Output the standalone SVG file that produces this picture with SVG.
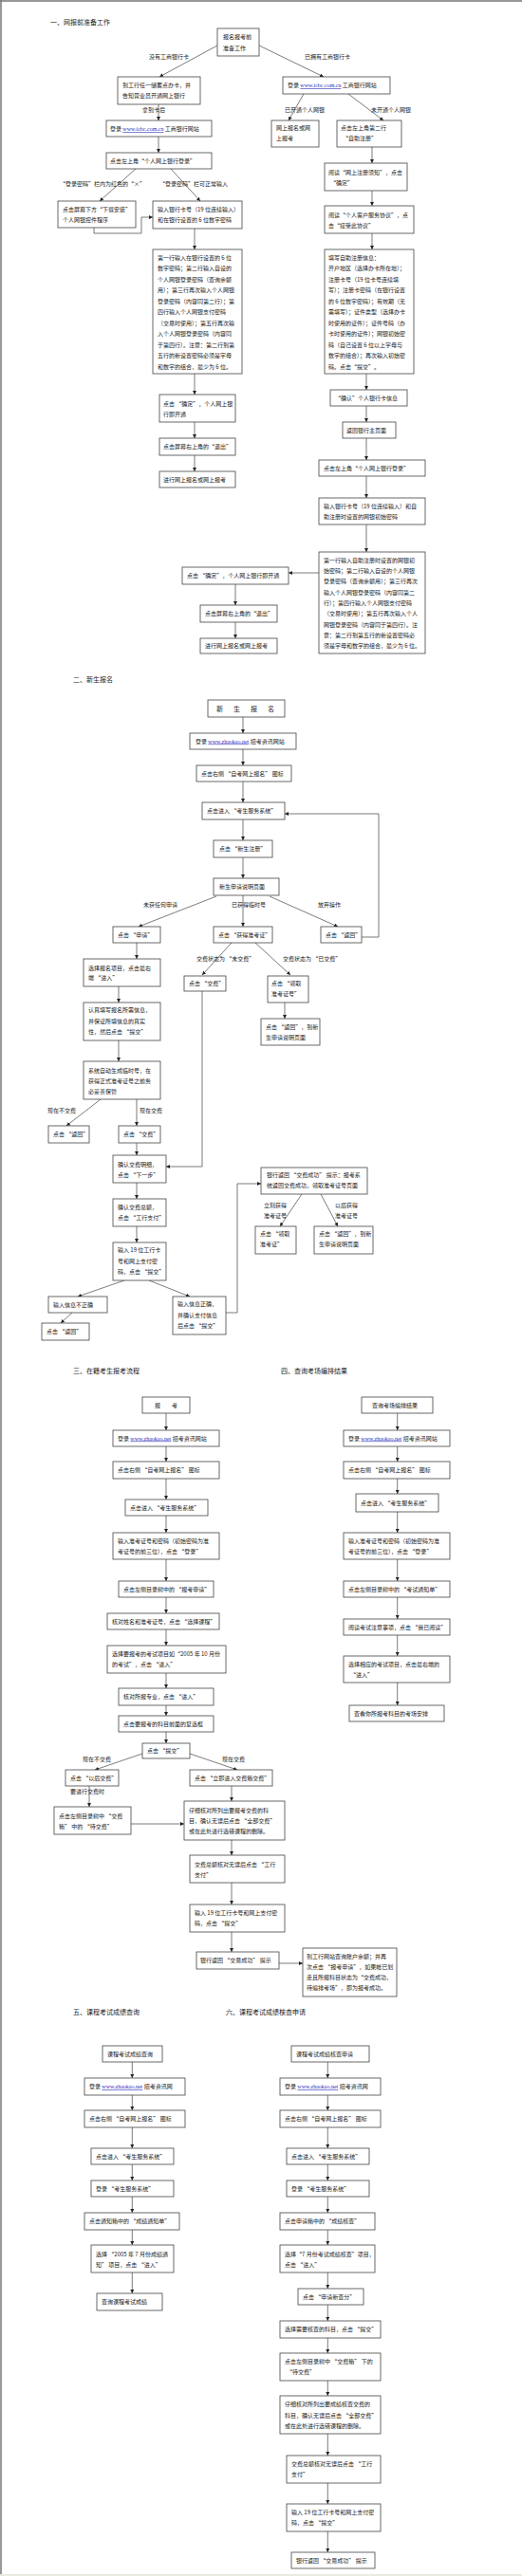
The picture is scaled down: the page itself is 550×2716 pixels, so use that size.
<svg xmlns="http://www.w3.org/2000/svg" width="550" height="2716" viewBox="0 0 550 2716">
<style>
.b{fill:#fff;stroke:#444;stroke-width:0.8}
.t{font-family:"Noto Sans CJK SC","Noto Sans CJK JP",sans-serif;font-size:6px;fill:#222}
.h{font-size:7px}
.l{font-family:"Liberation Serif",serif;fill:#2b2bbb;text-decoration:underline}
.c{fill:none;stroke:#444;stroke-width:0.7}
.ca{fill:none;stroke:#444;stroke-width:0.7;marker-end:url(#a)}
</style>
<defs>
<marker id="a" viewBox="0 0 6 6" refX="6" refY="3" markerWidth="4" markerHeight="4" orient="auto" markerUnits="userSpaceOnUse"><path d="M0,0 L6,3 L0,6 z" fill="#222"/></marker>
</defs>
<rect x="0" y="0" width="550" height="2716" fill="#fff"/>
<path d="M1,0 V2714 M0,1 H550" stroke="#777" stroke-width="1.5" fill="none"/>
<rect x="0" y="2714" width="550" height="2" fill="#ebebe3"/>

<g id="titles">
<text class="t h" x="53" y="26">一、网报前准备工作</text>
<text class="t h" x="77" y="719">二、新生报名</text>
<text class="t h" x="77" y="1448">三、在籍考生报考流程</text>
<text class="t h" x="296" y="1448">四、查询考场编排结果</text>
<text class="t h" x="77" y="2124">五、课程考试成绩查询</text>
<text class="t h" x="238" y="2124">六、课程考试成绩核查申请</text>
</g>

<g id="connectors">
<path class="ca" d="M229,48 L168,81"/>
<path class="ca" d="M273,48 L341,81"/>
<path class="ca" d="M167,110 V127"/>
<path class="ca" d="M167,144 V161"/>
<path class="ca" d="M143,178 L105,212"/>
<path class="ca" d="M180,178 L211,212"/>
<path class="ca" d="M99,240 V246 H149 V229 H161"/>
<path class="ca" d="M205,241 V263"/>
<path class="ca" d="M205,394 V416"/>
<path class="ca" d="M205,445 V462"/>
<path class="ca" d="M205,480 V497"/>
<path class="ca" d="M320,99 L304,127"/>
<path class="ca" d="M367,99 L404,127"/>
<path class="ca" d="M392,155 V172"/>
<path class="ca" d="M392,201 V217"/>
<path class="ca" d="M392,246 V263"/>
<path class="ca" d="M386,394 V411"/>
<path class="ca" d="M386,428 V445"/>
<path class="ca" d="M386,462 V485"/>
<path class="ca" d="M386,502 V525"/>
<path class="ca" d="M386,553 V582"/>
<path class="ca" d="M336,604 H304"/>
<path class="ca" d="M248,616 V638"/>
<path class="ca" d="M248,656 V673"/>
<text class="t" x="157" y="62">没有工商银行卡</text>
<text class="t" x="321" y="62">已拥有工商银行卡</text>
<text class="t" x="150" y="118">拿到卡后</text>
<text class="t" x="63" y="196">“登录密码”栏内为红色的“×”</text>
<text class="t" x="168" y="196">“登录密码”栏可正常输入</text>
<text class="t" x="300" y="118">已开通个人网银</text>
<text class="t" x="391" y="118">未开通个人网银</text>

<path class="ca" d="M256,756 V773"/>
<path class="ca" d="M256,790 V807"/>
<path class="ca" d="M256,824 V846"/>
<path class="ca" d="M256,864 V886"/>
<path class="ca" d="M256,904 V926"/>
<path class="ca" d="M228,945 L146,977"/>
<path class="ca" d="M256,944 V977"/>
<path class="ca" d="M284,945 L356,977"/>
<path class="ca" d="M381,988 H399 V858 H300"/>
<path class="ca" d="M144,994 V1011"/>
<path class="ca" d="M125,1040 V1057"/>
<path class="ca" d="M125,1097 V1119"/>
<path class="ca" d="M244,994 L213,1028"/>
<path class="ca" d="M269,994 L306,1028"/>
<path class="ca" d="M213,1045 V1230 H175"/>
<path class="ca" d="M300,1057 V1074"/>
<path class="ca" d="M106,1159 L70,1187"/>
<path class="ca" d="M144,1159 V1187"/>
<path class="ca" d="M144,1205 V1218"/>
<path class="ca" d="M144,1247 V1264"/>
<path class="ca" d="M144,1293 V1310"/>
<path class="ca" d="M131,1350 L82,1367"/>
<path class="ca" d="M157,1350 L200,1367"/>
<path class="ca" d="M76,1384 L64,1395"/>
<path class="ca" d="M238,1384 H250 V1248 H275"/>
<path class="ca" d="M318,1259 L295,1293"/>
<path class="ca" d="M338,1259 L356,1293"/>
<text class="t" x="151" y="956">未获任何申请</text>
<text class="t" x="244" y="956">已获得临时号</text>
<text class="t" x="335" y="956">放弃操作</text>
<text class="t" x="207" y="1013">交费状态为 “未交费”</text>
<text class="t" x="298" y="1013">交费状态为 “已交费”</text>
<text class="t" x="50" y="1173">现在不交费</text>
<text class="t" x="147" y="1173">现在交费</text>
<text class="t" x="278" y="1273">立刻获得</text>
<text class="t" x="278" y="1284">准考证号</text>
<text class="t" x="353" y="1273">以后获得</text>
<text class="t" x="353" y="1284">准考证号</text>

<path class="ca" d="M175,1490 V1508"/>
<path class="ca" d="M175,1525 V1541"/>
<path class="ca" d="M175,1559 V1581"/>
<path class="ca" d="M175,1598 V1616"/>
<path class="ca" d="M175,1644 V1667"/>
<path class="ca" d="M175,1684 V1701"/>
<path class="ca" d="M175,1718 V1735"/>
<path class="ca" d="M175,1764 V1780"/>
<path class="ca" d="M175,1798 V1809"/>
<path class="ca" d="M175,1826 V1838"/>
<path class="ca" d="M150,1849 L100,1866"/>
<path class="ca" d="M200,1849 L250,1866"/>
<path class="ca" d="M94,1883 V1905"/>
<path class="ca" d="M138,1923 H194"/>
<path class="ca" d="M244,1883 V1899"/>
<path class="ca" d="M244,1940 V1956"/>
<path class="ca" d="M244,1985 V2008"/>
<path class="ca" d="M244,2037 V2058"/>
<path class="ca" d="M294,2070 H319"/>
<text class="t" x="87" y="1857">现在不交费</text>
<text class="t" x="234" y="1857">现在交费</text>
<text class="t" x="74" y="1891">要进行交费时</text>

<path class="ca" d="M418.7,1490 V1508"/>
<path class="ca" d="M418.7,1525 V1541"/>
<path class="ca" d="M418.7,1559 V1575"/>
<path class="ca" d="M418.7,1594 V1616"/>
<path class="ca" d="M418.7,1644 V1667"/>
<path class="ca" d="M418.7,1684 V1707"/>
<path class="ca" d="M418.7,1724 V1746"/>
<path class="ca" d="M418.7,1774 V1798"/>

<path class="ca" d="M139.3,2174 V2191"/>
<path class="ca" d="M139.3,2209 V2225"/>
<path class="ca" d="M139.3,2243 V2265"/>
<path class="ca" d="M139.3,2282 V2299"/>
<path class="ca" d="M139.3,2316 V2333"/>
<path class="ca" d="M139.3,2351 V2367"/>
<path class="ca" d="M139.3,2396 V2418"/>

<path class="ca" d="M345.3,2174 V2191"/>
<path class="ca" d="M345.3,2209 V2225"/>
<path class="ca" d="M345.3,2243 V2265"/>
<path class="ca" d="M345.3,2282 V2299"/>
<path class="ca" d="M345.3,2316 V2333"/>
<path class="ca" d="M345.3,2351 V2367"/>
<path class="ca" d="M345.3,2396 V2413"/>
<path class="ca" d="M345.3,2430 V2447"/>
<path class="ca" d="M345.3,2465 V2481"/>
<path class="ca" d="M345.3,2510 V2526"/>
<path class="ca" d="M345.3,2566 V2589"/>
<path class="ca" d="M345.3,2618 V2640"/>
<path class="ca" d="M345.3,2669 V2691"/>
</g>

<g id="n1"><rect class="b" x="229" y="30" width="44" height="29"/><text class="t" x="235" y="41">报名报考前</text><text class="t" x="235" y="53">准备工作</text></g>
<g id="n2"><rect class="b" x="124" y="81" width="87" height="29"/><text class="t" x="129" y="92">到工行任一储蓄点办卡，并</text><text class="t" x="129" y="103">告知营业员开通网上银行</text></g>
<g id="n3"><rect class="b" x="112" y="127" width="111" height="17"/><text class="t" x="116" y="138">登录 <tspan class="l">www.icbc.com.cn</tspan> 工商银行网站</text></g>
<g id="n4"><rect class="b" x="112" y="161" width="111" height="17"/><text class="t" x="116" y="172">点击左上角“个人网上银行登录”</text></g>
<g id="n5"><rect class="b" x="61" y="212" width="82" height="28"/><text class="t" x="66" y="223">点击屏幕下方“下载安装”</text><text class="t" x="66" y="234">个人网银控件程序</text></g>
<g id="n6"><rect class="b" x="161" y="212" width="94" height="29"/><text class="t" x="166" y="223">输入银行卡号（19 位连续输入）</text><text class="t" x="166" y="234">和在银行设置的 6 位数字密码</text></g>
<g id="n7"><rect class="b" x="161" y="263" width="94" height="131"/>
<text class="t" x="166" y="273.5">第一行输入在银行设置的 6 位</text>
<text class="t" x="166" y="285">数字密码；第二行输入自设的</text>
<text class="t" x="166" y="296.5">个人网银登录密码（查询余额</text>
<text class="t" x="166" y="308">用）；第三行再次输入个人网银</text>
<text class="t" x="166" y="319.5">登录密码（内容同第二行）；第</text>
<text class="t" x="166" y="331">四行输入个人网银支付密码</text>
<text class="t" x="166" y="342.5">（交易时使用）；第五行再次输</text>
<text class="t" x="166" y="354">入个人网银登录密码（内容同</text>
<text class="t" x="166" y="365.5">于第四行）。注意：第二行到第</text>
<text class="t" x="166" y="377">五行的新设置密码必须是字母</text>
<text class="t" x="166" y="388.5">和数字的组合，最少为 6 位。</text></g>
<g id="n8"><rect class="b" x="168" y="416" width="80" height="29"/><text class="t" x="172" y="428">点击 “确定”，个人网上银</text><text class="t" x="172" y="439">行即开通</text></g>
<g id="n9"><rect class="b" x="168" y="462" width="80" height="18"/><text class="t" x="172" y="473">点击屏幕右上角的“退出”</text></g>
<g id="n10"><rect class="b" x="168" y="497" width="80" height="17"/><text class="t" x="172" y="507.5">进行网上报名或网上报考</text></g>

<g id="n11"><rect class="b" x="298" y="81" width="113" height="18"/><text class="t" x="303" y="92">登录 <tspan class="l">www.icbc.com.cn</tspan> 工商银行网站</text></g>
<g id="n12"><rect class="b" x="286" y="127" width="50" height="28"/><text class="t" x="291" y="137">网上报名或网</text><text class="t" x="291" y="148">上报考</text></g>
<g id="n13"><rect class="b" x="355" y="127" width="68" height="28"/><text class="t" x="359" y="137">点击左上角第二行</text><text class="t" x="361" y="148">“自助注册”</text></g>
<g id="n14"><rect class="b" x="342" y="172" width="87" height="29"/><text class="t" x="346" y="184">阅读“网上注册须知”，点击</text><text class="t" x="348" y="195">“确定”</text></g>
<g id="n15"><rect class="b" x="342" y="217" width="94" height="29"/><text class="t" x="346" y="229">阅读“个人客户服务协议”，点</text><text class="t" x="346" y="240">击“接受此协议”</text></g>
<g id="n16"><rect class="b" x="342" y="263" width="94" height="131"/>
<text class="t" x="346" y="273.5">填写自助注册信息：</text>
<text class="t" x="346" y="285">开户地区（选择办卡所在地）；</text>
<text class="t" x="346" y="296.5">注册卡号（19 位卡号连续填</text>
<text class="t" x="346" y="308">写）；注册卡密码（在银行设置</text>
<text class="t" x="346" y="319.5">的 6 位数字密码）；有效期（无</text>
<text class="t" x="346" y="331">需填写）；证件类型（选择办卡</text>
<text class="t" x="346" y="342.5">时使用的证件）；证件号码（办</text>
<text class="t" x="346" y="354">卡时使用的证件）；网银初始密</text>
<text class="t" x="346" y="365.5">码（自己设置 6 位以上字母与</text>
<text class="t" x="346" y="377">数字的组合）；再次输入初始密</text>
<text class="t" x="346" y="388.5">码。点击“提交”。</text></g>
<g id="n17"><rect class="b" x="348" y="411" width="81" height="17"/><text class="t" x="353" y="422">“确认”个人银行卡信息</text></g>
<g id="n18"><rect class="b" x="361" y="445" width="56" height="17"/><text class="t" x="365" y="456">返回银行主页面</text></g>
<g id="n19"><rect class="b" x="336" y="485" width="112" height="17"/><text class="t" x="341" y="496">点击左上角“个人网上银行登录”</text></g>
<g id="n20"><rect class="b" x="336" y="525" width="112" height="28"/><text class="t" x="341" y="536">输入银行卡号（19 位连续输入）和自</text><text class="t" x="341" y="547">助注册时设置的网银初始密码</text></g>
<g id="n21"><rect class="b" x="336" y="582" width="112" height="107"/>
<text class="t" x="341" y="592.7">第一行输入自助注册时设置的网银初</text>
<text class="t" x="341" y="604">始密码；第二行输入自设的个人网银</text>
<text class="t" x="341" y="615.3">登录密码（查询余额用）；第三行再次</text>
<text class="t" x="341" y="626.6">输入个人网银登录密码（内容同第二</text>
<text class="t" x="341" y="637.9">行）；第四行输入个人网银支付密码</text>
<text class="t" x="341" y="649.2">（交易时使用）；第五行再次输入个人</text>
<text class="t" x="341" y="660.5">网银登录密码（内容同于第四行）。注</text>
<text class="t" x="341" y="671.8">意：第二行到第五行的新设置密码必</text>
<text class="t" x="341" y="683.1">须是字母和数字的组合，最少为 6 位。</text></g>
<g id="n22"><rect class="b" x="192" y="598" width="112" height="18"/><text class="t" x="197" y="609">点击 “确定”，个人网上银行即开通</text></g>
<g id="n23"><rect class="b" x="211" y="638" width="81" height="18"/><text class="t" x="216" y="649">点击屏幕右上角的“退出”</text></g>
<g id="n24"><rect class="b" x="211" y="673" width="81" height="16"/><text class="t" x="216" y="683">进行网上报名或网上报考</text></g>

<g id="n25"><rect class="b" x="219" y="738" width="81" height="18"/><text class="t h" x="259.5" y="750" text-anchor="middle" letter-spacing="2">新　生　报　名</text></g>
<g id="n26"><rect class="b" x="200" y="773" width="112" height="17"/><text class="t" x="206" y="783.5">登录 <tspan class="l">www.zhaokao.net</tspan> 招考资讯网站</text></g>
<g id="n27"><rect class="b" x="207" y="807" width="100" height="17"/><text class="t" x="212" y="817.5">点击右侧 “自考网上报名” 图标</text></g>
<g id="n28"><rect class="b" x="213" y="846" width="87" height="18"/><text class="t" x="218" y="857">点击进入 “考生服务系统”</text></g>
<g id="n29"><rect class="b" x="225" y="886" width="62" height="18"/><text class="t" x="231" y="897">点击 “新生注册”</text></g>
<g id="n30"><rect class="b" x="225" y="926" width="69" height="18"/><text class="t" x="231" y="937">新生申请说明页面</text></g>
<g id="n31"><rect class="b" x="119" y="977" width="50" height="17"/><text class="t" x="124" y="988">点击 “申请”</text></g>
<g id="n32"><rect class="b" x="225" y="977" width="62" height="17"/><text class="t" x="230" y="988">点击 “获得准考证”</text></g>
<g id="n33"><rect class="b" x="338" y="977" width="43" height="17"/><text class="t" x="343" y="988">点击 “返回”</text></g>
<g id="n34"><rect class="b" x="88" y="1011" width="81" height="29"/><text class="t" x="93" y="1023">选择报名项目，点击最右</text><text class="t" x="93" y="1033">端 “进入”</text></g>
<g id="n35"><rect class="b" x="88" y="1057" width="81" height="40"/><text class="t" x="93" y="1067">认真填写报名所需信息，</text><text class="t" x="93" y="1078.5">并保证所填信息的真实</text><text class="t" x="93" y="1090">性，然后点击 “提交”</text></g>
<g id="n36"><rect class="b" x="88" y="1119" width="81" height="40"/><text class="t" x="93" y="1131">系统自动生成临时号，在</text><text class="t" x="93" y="1142">获得正式准考证号之前务</text><text class="t" x="93" y="1153">必妥善保管</text></g>
<g id="n37"><rect class="b" x="194" y="1029" width="44" height="16"/><text class="t" x="199" y="1039">点击 “交费”</text></g>
<g id="n38"><rect class="b" x="282" y="1029" width="43" height="28"/><text class="t" x="286" y="1039">点击 “领取</text><text class="t" x="286" y="1050">准考证号”</text></g>
<g id="n39"><rect class="b" x="275" y="1074" width="62" height="28"/><text class="t" x="280" y="1085">点击 “返回”，到新</text><text class="t" x="280" y="1096">生申请说明页面</text></g>
<g id="n40"><rect class="b" x="51" y="1187" width="43" height="18"/><text class="t" x="56" y="1198">点击 “返回”</text></g>
<g id="n41"><rect class="b" x="125" y="1187" width="44" height="18"/><text class="t" x="130" y="1198">点击 “交费”</text></g>
<g id="n42"><rect class="b" x="119" y="1218" width="56" height="29"/><text class="t" x="124" y="1230">确认交费明细，</text><text class="t" x="124" y="1241">点击 “下一步”</text></g>
<g id="n43"><rect class="b" x="119" y="1264" width="56" height="29"/><text class="t" x="124" y="1275">确认交费总额，</text><text class="t" x="124" y="1286">点击 “工行支付”</text></g>
<g id="n44"><rect class="b" x="119" y="1310" width="56" height="40"/><text class="t" x="124" y="1320">输入 19 位工行卡</text><text class="t" x="124" y="1332">号和网上支付密</text><text class="t" x="124" y="1343">码，点击 “提交”</text></g>
<g id="n45"><rect class="b" x="51" y="1367" width="62" height="17"/><text class="t" x="56" y="1377.5">输入信息不正确</text></g>
<g id="n46"><rect class="b" x="44" y="1395" width="50" height="18"/><text class="t" x="49" y="1406">点击 “返回”</text></g>
<g id="n47"><rect class="b" x="182" y="1367" width="56" height="40"/><text class="t" x="187" y="1377">输入信息正确，</text><text class="t" x="187" y="1389">并确认支付信息</text><text class="t" x="187" y="1400">后点击 “提交”</text></g>
<g id="n48"><rect class="b" x="275" y="1231" width="112" height="28"/><text class="t" x="281" y="1241">银行返回 “交费成功” 提示：报考系</text><text class="t" x="281" y="1252">统返回交费成功，领取准考证号页面</text></g>
<g id="n49"><rect class="b" x="269" y="1293" width="43" height="29"/><text class="t" x="274" y="1303">点击 “领取</text><text class="t" x="274" y="1314">准考证”</text></g>
<g id="n50"><rect class="b" x="331" y="1293" width="62" height="29"/><text class="t" x="336" y="1303">点击 “返回”，到新</text><text class="t" x="336" y="1314">生申请说明页面</text></g>

<g id="n51"><rect class="b" x="150" y="1473" width="50" height="17"/><text class="t" x="175" y="1484" text-anchor="middle">报　　考</text></g>
<g id="n52"><rect class="b" x="119" y="1508" width="112" height="17"/><text class="t" x="124" y="1518.5">登录 <tspan class="l">www.zhaokao.net</tspan> 招考资讯网站</text></g>
<g id="n53"><rect class="b" x="119" y="1541" width="112" height="18"/><text class="t" x="124" y="1552">点击右侧 “自考网上报名” 图标</text></g>
<g id="n54"><rect class="b" x="132" y="1581" width="87" height="17"/><text class="t" x="137" y="1591.5">点击进入 “考生服务系统”</text></g>
<g id="n55"><rect class="b" x="119" y="1616" width="112" height="28"/><text class="t" x="124" y="1627">输入准考证号和密码（初始密码为准</text><text class="t" x="124" y="1638">考证号的前三位），点击 “登录”</text></g>
<g id="n56"><rect class="b" x="125" y="1667" width="100" height="17"/><text class="t" x="130" y="1678">点击左侧目录树中的 “报考申请”</text></g>
<g id="n57"><rect class="b" x="113" y="1701" width="118" height="17"/><text class="t" x="118" y="1712">核对姓名和准考证号，点击 “选择课程”</text></g>
<g id="n58"><rect class="b" x="113" y="1735" width="125" height="29"/><text class="t" x="118" y="1746">选择要报考的考试项目如“2005 年 10 月份</text><text class="t" x="118" y="1757">的考试”，点击 “进入”</text></g>
<g id="n59"><rect class="b" x="125" y="1780" width="100" height="18"/><text class="t" x="130" y="1791">核对所报专业，点击 “进入”</text></g>
<g id="n60"><rect class="b" x="125" y="1809" width="100" height="17"/><text class="t" x="130" y="1820">点击要报考的科目前面的复选框</text></g>
<g id="n61"><rect class="b" x="150" y="1838" width="50" height="16"/><text class="t" x="155" y="1848">点击 “提交”</text></g>
<g id="n62"><rect class="b" x="69" y="1866" width="56" height="17"/><text class="t" x="74" y="1876.5">点击 “以后交费”</text></g>
<g id="n63"><rect class="b" x="57" y="1905" width="81" height="29"/><text class="t" x="62" y="1917">点击左侧目录树中 “交费</text><text class="t" x="62" y="1927.5">箱” 中的 “待交费”</text></g>
<g id="n64"><rect class="b" x="200" y="1866" width="87" height="17"/><text class="t" x="205" y="1876.5">点击 “立即进入交费箱交费”</text></g>
<g id="n65"><rect class="b" x="194" y="1899" width="106" height="41"/><text class="t" x="199" y="1910.7">仔细核对所列出要报考交费的科</text><text class="t" x="199" y="1922">目，确认无误后点击 “全部交费”</text><text class="t" x="199" y="1933">或在此处进行选错课程的删除。</text></g>
<g id="n66"><rect class="b" x="200" y="1956" width="100" height="29"/><text class="t" x="205" y="1968">交费总额核对无误后点击 “工行</text><text class="t" x="205" y="1979">支付”</text></g>
<g id="n67"><rect class="b" x="200" y="2008" width="100" height="29"/><text class="t" x="205" y="2019">输入 19 位工行卡号和网上支付密</text><text class="t" x="205" y="2030">码，点击 “提交”</text></g>
<g id="n68"><rect class="b" x="207" y="2058" width="87" height="18"/><text class="t" x="211" y="2069">银行返回 “交易成功” 提示</text></g>
<g id="n69"><rect class="b" x="319" y="2054" width="99" height="51"/><text class="t" x="323" y="2065">到工行网站查询账户余额；并再</text><text class="t" x="323" y="2076">次点击 “报考申请”，如果帐已划</text><text class="t" x="323" y="2087">走且所报科目状态为“交费成功，</text><text class="t" x="323" y="2098">待编排考场”，即为报考成功。</text></g>

<g id="n70"><rect class="b" x="381" y="1473" width="75" height="17"/><text class="t" x="392" y="1484">查询考场编排结果</text></g>
<g id="n71"><rect class="b" x="362" y="1508" width="112" height="17"/><text class="t" x="367" y="1518.5">登录 <tspan class="l">www.zhaokao.net</tspan> 招考资讯网站</text></g>
<g id="n72"><rect class="b" x="362" y="1541" width="112" height="18"/><text class="t" x="367" y="1552">点击右侧 “自考网上报名” 图标</text></g>
<g id="n73"><rect class="b" x="375" y="1575" width="87" height="19"/><text class="t" x="380" y="1587">点击进入 “考生服务系统”</text></g>
<g id="n74"><rect class="b" x="362" y="1616" width="112" height="28"/><text class="t" x="367" y="1627">输入准考证号和密码（初始密码为准</text><text class="t" x="367" y="1638">考证号的前三位），点击 “登录”</text></g>
<g id="n75"><rect class="b" x="362" y="1667" width="112" height="17"/><text class="t" x="367" y="1678">点击左侧目录树中的 “考试通知单”</text></g>
<g id="n76"><rect class="b" x="362" y="1707" width="112" height="17"/><text class="t" x="367" y="1718">阅读考试注意事项，点击 “我已阅读”</text></g>
<g id="n77"><rect class="b" x="362" y="1746" width="112" height="28"/><text class="t" x="367" y="1757">选择相应的考试项目，点击最右端的</text><text class="t" x="369" y="1768">“进入”</text></g>
<g id="n78"><rect class="b" x="368" y="1798" width="100" height="17"/><text class="t" x="373" y="1808.5">查看你所报考科目的考场安排</text></g>

<g id="n79"><rect class="b" x="108" y="2157" width="63" height="17"/><text class="t" x="113" y="2167.5">课程考试成绩查询</text></g>
<g id="n80"><rect class="b" x="89" y="2191" width="106" height="18"/><text class="t" x="94" y="2202">登录 <tspan class="l">www.zhaokao.net</tspan> 招考资讯网</text></g>
<g id="n81"><rect class="b" x="89" y="2225" width="106" height="18"/><text class="t" x="94" y="2236">点击右侧 “自考网上报名” 图标</text></g>
<g id="n82"><rect class="b" x="96" y="2265" width="87" height="17"/><text class="t" x="101" y="2276">点击进入 “考生服务系统”</text></g>
<g id="n83"><rect class="b" x="96" y="2299" width="87" height="17"/><text class="t" x="101" y="2310">登录 “考生服务系统”</text></g>
<g id="n84"><rect class="b" x="89" y="2333" width="100" height="18"/><text class="t" x="94" y="2344">点击通知箱中的 “成绩通知单”</text></g>
<g id="n85"><rect class="b" x="96" y="2367" width="87" height="29"/><text class="t" x="101" y="2379">选择 “2005 年 7 月份成绩通</text><text class="t" x="101" y="2390">知” 项目，点击 “进入”</text></g>
<g id="n86"><rect class="b" x="102" y="2418" width="69" height="18"/><text class="t" x="107" y="2429">查询课程考试成绩</text></g>

<g id="n87"><rect class="b" x="307" y="2157" width="82" height="17"/><text class="t" x="312" y="2167.5">课程考试成绩核查申请</text></g>
<g id="n88"><rect class="b" x="295" y="2191" width="106" height="18"/><text class="t" x="300" y="2202">登录 <tspan class="l">www.zhaokao.net</tspan> 招考资讯网</text></g>
<g id="n89"><rect class="b" x="295" y="2225" width="106" height="18"/><text class="t" x="300" y="2236">点击右侧 “自考网上报名” 图标</text></g>
<g id="n90"><rect class="b" x="302" y="2265" width="87" height="17"/><text class="t" x="307" y="2276">点击进入 “考生服务系统”</text></g>
<g id="n91"><rect class="b" x="302" y="2299" width="87" height="17"/><text class="t" x="307" y="2310">登录 “考生服务系统”</text></g>
<g id="n92"><rect class="b" x="295" y="2333" width="100" height="18"/><text class="t" x="300" y="2344">点击申请箱中的 “成绩核查”</text></g>
<g id="n93"><rect class="b" x="295" y="2367" width="100" height="29"/><text class="t" x="300" y="2379">选择“7 月份考试成绩核查”项目，</text><text class="t" x="300" y="2390">点击 “进入”</text></g>
<g id="n94"><rect class="b" x="314" y="2413" width="69" height="17"/><text class="t" x="319" y="2423.5">点击 “申请新查分”</text></g>
<g id="n95"><rect class="b" x="295" y="2447" width="106" height="18"/><text class="t" x="300" y="2458">选择需要核查的科目，点击 “提交”</text></g>
<g id="n96"><rect class="b" x="295" y="2481" width="106" height="29"/><text class="t" x="300" y="2492">点击左侧目录树中 “交费箱” 下的</text><text class="t" x="302" y="2503">“待交费”</text></g>
<g id="n97"><rect class="b" x="295" y="2526" width="106" height="40"/><text class="t" x="300" y="2537">仔细核对所列出要成绩核查交费的</text><text class="t" x="300" y="2549">科目，确认无误后点击 “全部交费”</text><text class="t" x="300" y="2560">或在此处进行选错课程的删除。</text></g>
<g id="n98"><rect class="b" x="302" y="2589" width="99" height="29"/><text class="t" x="307" y="2600">交费总额核对无误后点击 “工行</text><text class="t" x="307" y="2611">支付”</text></g>
<g id="n99"><rect class="b" x="302" y="2640" width="99" height="29"/><text class="t" x="307" y="2651">输入 19 位工行卡号和网上支付密</text><text class="t" x="307" y="2662">码，点击 “提交”</text></g>
<g id="n100"><rect class="b" x="307" y="2691" width="88" height="17"/><text class="t" x="312" y="2702">银行返回 “交易成功” 提示</text></g>
</svg>
